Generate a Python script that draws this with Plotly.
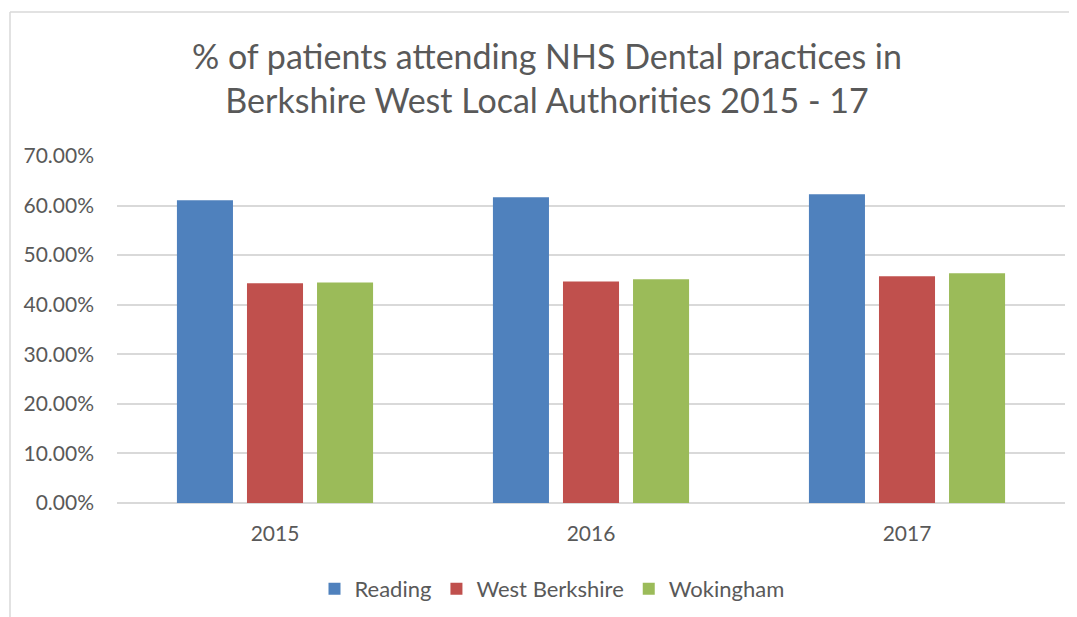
import plotly.graph_objects as go

years = ["2015", "2016", "2017"]
series_names = ["Reading", "West Berkshire", "Wokingham"]
reading = [0.6106, 0.6166, 0.6227]
west_berkshire = [0.4432, 0.4470, 0.4573]
wokingham = [0.4450, 0.4512, 0.4634]
colors = ["#4F81BD", "#C0504D", "#9BBB59"]
y_ticks = [0, 0.1, 0.2, 0.3, 0.4, 0.5, 0.6, 0.7]

OFF = 8  # default page body margin
W, H = 1077, 617
# plot area in page pixels
PL, PR, PT, PB = 117, 1065, 156, 503
L = PL - OFF
T = PT - OFF
R = W - (PR - OFF)
B = H - (PB - OFF)
pw = PR - PL
ph = PB - PT

def px_x(p):
    return (p - PL) / pw

def px_y(p):
    return 1 - (p - PT) / ph

fig = go.Figure()
for name, vals, c in zip(series_names, [reading, west_berkshire, wokingham], colors):
    fig.add_trace(go.Bar(x=years, y=vals, name=name, marker=dict(color=c, line=dict(width=0))))

font_family = "Lato, 'Noto Sans', sans-serif"
grey = "#595959"

fig.update_layout(
    width=W, height=H,
    margin=dict(l=L, r=R, t=T, b=B, autoexpand=False),
    paper_bgcolor="white", plot_bgcolor="white",
    barmode="group", bargap=0.335, bargroupgap=0.2,
    font=dict(family=font_family, color=grey),
    title=dict(
        text="% of patients attending NHS Dental practices in<br>Berkshire West Local Authorities 2015 - 17",
        x=px_x(547), xref="paper", xanchor="center",
        y=1 - 61 / H, yref="container", yanchor="middle",
        font=dict(size=34, color=grey, family=font_family),
    ),
    showlegend=True,
    legend=dict(
        orientation="h", x=px_x(552), xanchor="center", xref="paper",
        y=px_y(589), yanchor="middle", yref="paper",
        font=dict(size=22, color=grey), itemsizing="constant",
        traceorder="normal",
    ),
    xaxis=dict(
        showgrid=False, showline=False, ticks="",
        tickfont=dict(size=21, color=grey), ticklabelstandoff=16,
    ),
    yaxis=dict(
        range=[0, 0.7], tickvals=y_ticks, tickformat=".2%",
        showgrid=True, gridcolor="#D9D9D9", gridwidth=1.5,
        zeroline=True, zerolinecolor="#D9D9D9", zerolinewidth=1.5,
        showline=False, ticks="", ticklabelstandoff=22,
        tickfont=dict(size=21, color=grey),
    ),
    shapes=[
        dict(type="line", xref="paper", yref="paper",
             x0=px_x(10), x1=px_x(1090), y0=px_y(12), y1=px_y(12),
             line=dict(color="#D9D9D9", width=1.5)),
        dict(type="line", xref="paper", yref="paper",
             x0=px_x(10), x1=px_x(10), y0=px_y(12), y1=px_y(630),
             line=dict(color="#D9D9D9", width=1.5)),
    ],
)

fig.write_html("out.html")
